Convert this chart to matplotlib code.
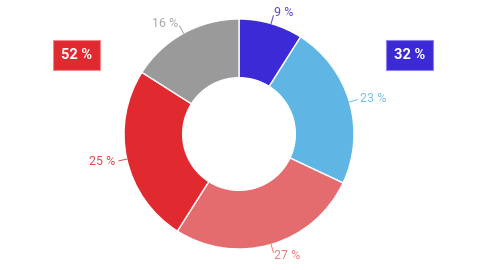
import numpy as np
import matplotlib.pyplot as plt

plt.rcParams['font.family'] = ['Roboto', 'DejaVu Sans']

# data
labels = ['9 %', '23 %', '27 %', '25 %', '16 %']
values = [9, 23, 27, 25, 16]
colors = ['#3b2ad6', '#5fb6e5', '#e46c6e', '#e02a2f', '#9a9a9a']
blue_group = [0, 1]
red_group = [2, 3]

fig = plt.figure(figsize=(4.8, 2.7), dpi=100)
ax = fig.add_axes([0, 0, 1, 1])

cx, cy, r = 239, 136, 115
ax.pie(values, colors=colors, startangle=90, counterclock=False,
       center=(cx, cy), radius=r, frame=True,
       wedgeprops=dict(width=r * 0.51, edgecolor='white', linewidth=1))
ax.set_xlim(0, 480)
ax.set_ylim(0, 270)
ax.set_aspect('equal')
ax.axis('off')

# outside labels with leader lines
total = sum(values)
cum = 0
for lab, v, c in zip(labels, values, colors):
    mid = (cum + v / 2) / total * 2 * np.pi
    cum += v
    s, co = np.sin(mid), np.cos(mid)
    x0, y0 = cx + r * s, cy + r * co
    x1, y1 = cx + r * 1.07 * s, cy + r * 1.07 * co
    ax.plot([x0, x1], [y0, y1], color=c, lw=0.8, alpha=0.8)
    ha = 'left' if s >= 0 else 'right'
    ax.text(cx + r * 1.1 * s, cy + r * 1.1 * co, lab, color=c, fontsize=9,
            ha=ha, va='center', alpha=0.85)

# group totals
red_total = sum(values[i] for i in red_group)
blue_total = sum(values[i] for i in blue_group)
ax.text(76.5, 215, f'{red_total} %', color='white', fontsize=10.5, fontweight='bold',
        ha='center', va='center',
        bbox=dict(boxstyle='square,pad=0.55', fc='#e02a2f', ec='#f08a8c', lw=0.8))
ax.text(409.5, 215, f'{blue_total} %', color='white', fontsize=10.5, fontweight='bold',
        ha='center', va='center',
        bbox=dict(boxstyle='square,pad=0.55', fc='#3b2ad6', ec='#8c82ea', lw=0.8))

fig.savefig('out.png', dpi=100)
